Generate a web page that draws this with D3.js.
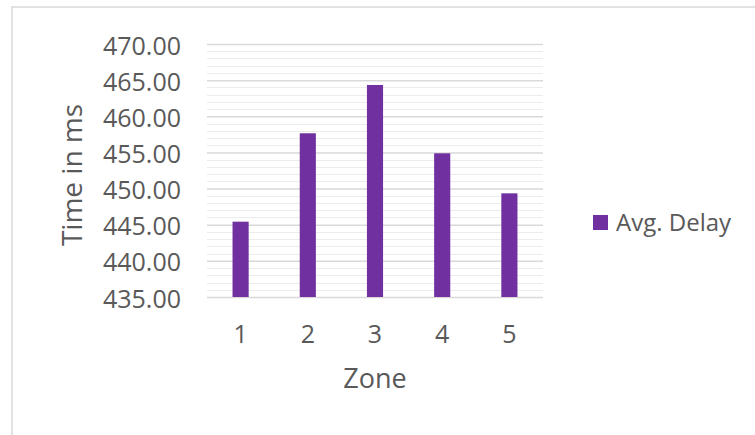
<!DOCTYPE html>
<html><head><meta charset="utf-8">
<script src="https://cdn.jsdelivr.net/npm/d3@7"></script>
<style>
html,body{margin:0;padding:0;background:#fff;}
svg{display:block;}
text{font-family:"Open Sans",sans-serif;fill:#595959;}
</style></head>
<body>
<svg id="chart" width="755" height="435"></svg>
<script>
const zones = ["1","2","3","4","5"];
const avgDelay = [445.42, 457.65, 464.33, 454.88, 449.34];
const yTicks = [435, 440, 445, 450, 455, 460, 465, 470];
const seriesName = "Avg. Delay";
const xTitle = "Zone";
const yTitle = "Time in ms";

const svg = d3.select("#chart");
// outer chart frame
svg.append("rect").attr("x",12).attr("y",7).attr("width",800).attr("height",500)
  .attr("fill","none").attr("stroke","#d9d9d9").attr("stroke-width",1.5);

const plot = {left:207, right:543, top:44, bottom:297};
const x = d3.scaleBand().domain(zones).range([plot.left, plot.right]).paddingInner(0.76).paddingOuter(0.38);
const y = d3.scaleLinear().domain([435, 470]).range([plot.bottom, plot.top]);

// minor gridlines (1 ms)
const minor = d3.range(436, 470, 1).filter(v => v % 5 !== 0);
svg.append("g").selectAll("line").data(minor).join("line")
  .attr("x1",plot.left).attr("x2",plot.right)
  .attr("y1",d=>Math.round(y(d))+0.5).attr("y2",d=>Math.round(y(d))+0.5)
  .attr("stroke","#ececec").attr("stroke-width",1);

// major gridlines + y axis labels
const yAxis = d3.axisLeft(y).tickValues(yTicks).tickFormat(d3.format(".2f"))
  .tickSize(-(plot.right-plot.left)).tickPadding(26);
const gy = svg.append("g").attr("transform",`translate(${plot.left},0)`).call(yAxis);
gy.select(".domain").remove();
gy.selectAll(".tick line").attr("stroke","#d9d9d9").attr("stroke-width",1.5);
gy.selectAll(".tick text").attr("font-size",25).attr("fill","#595959")
  .attr("font-family","'Open Sans',sans-serif").attr("dy","0.40em");

// bars
svg.append("g").selectAll("rect").data(avgDelay).join("rect")
  .attr("x",(d,i)=>x(zones[i])).attr("width",x.bandwidth())
  .attr("y",d=>y(d)).attr("height",d=>y(435)-y(d))
  .attr("fill","#7030a0");

// x axis labels
const xAxis = d3.axisBottom(x).tickSize(0).tickPadding(28);
const gx = svg.append("g").attr("transform",`translate(0,${plot.bottom})`).call(xAxis);
gx.select(".domain").remove();
gx.selectAll(".tick text").attr("font-size",25).attr("fill","#595959")
  .attr("font-family","'Open Sans',sans-serif");

// axis titles
svg.append("text").attr("x",(plot.left+plot.right)/2).attr("y",388)
  .attr("text-anchor","middle").attr("font-size",27).text(xTitle);
svg.append("text").attr("transform","translate(82,175) rotate(-90)")
  .attr("text-anchor","middle").attr("font-size",28).text(yTitle);

// legend
svg.append("rect").attr("x",593).attr("y",215).attr("width",15).attr("height",15).attr("fill","#7030a0");
svg.append("text").attr("x",616).attr("y",231).attr("font-size",24).text(seriesName);
</script>
</body></html>
